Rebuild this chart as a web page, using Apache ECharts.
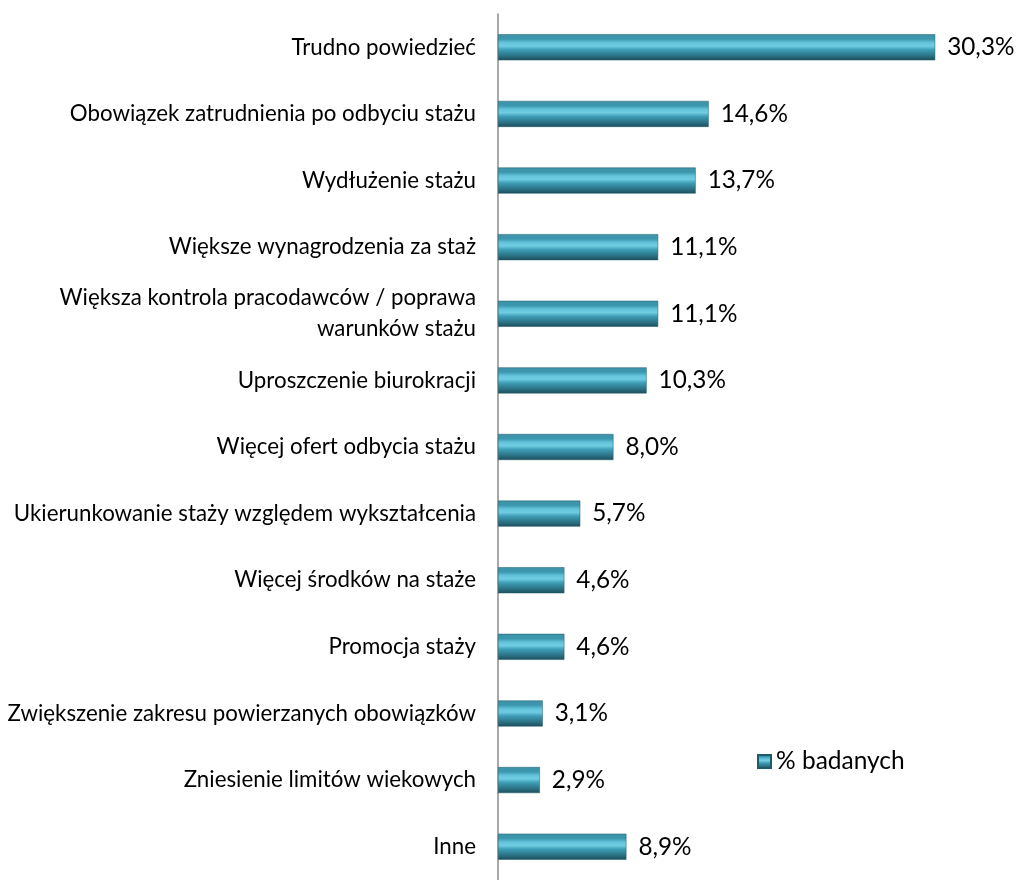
<!DOCTYPE html>
<html><head><meta charset="utf-8">
<script src="https://cdn.jsdelivr.net/npm/echarts@6/dist/echarts.min.js"></script>
<style>html,body{margin:0;padding:0;background:#fff}#c{width:1019px;height:880px}</style>
</head><body><div id="c"></div>
<script>
const categories = [
  "Trudno powiedzieć",
  "Obowiązek zatrudnienia po odbyciu stażu",
  "Wydłużenie stażu",
  "Większe wynagrodzenia za staż",
  "Większa kontrola pracodawców / poprawa\nwarunków stażu",
  "Uproszczenie biurokracji",
  "Więcej ofert odbycia stażu",
  "Ukierunkowanie staży względem wykształcenia",
  "Więcej środków na staże",
  "Promocja staży",
  "Zwiększenie zakresu powierzanych obowiązków",
  "Zniesienie limitów wiekowych",
  "Inne"
];
const values = [30.3, 14.6, 13.7, 11.1, 11.1, 10.3, 8.0, 5.7, 4.6, 4.6, 3.1, 2.9, 8.9];
const seriesName = "% badanych";

const font = "Lato, 'Open Sans', sans-serif";
const barGrad = new echarts.graphic.LinearGradient(0, 0, 0, 1, [
  {offset: 0, color: '#3f93a8'},
  {offset: 0.18, color: '#3b97ae'},
  {offset: 0.32, color: '#62c3da'},
  {offset: 0.45, color: '#70cde2'},
  {offset: 0.6, color: '#3d9db5'},
  {offset: 0.82, color: '#2c7386'},
  {offset: 1, color: '#1c4e5b'}
]);
const chart = echarts.init(document.getElementById('c'));
chart.setOption({
  animation: false,
  grid: {left: 498, top: 14, width: 505, height: 874, containLabel: false},
  legend: {
    data: [seriesName], left: 752, top: 744, itemWidth: 13, itemHeight: 13, itemGap: 4,
    icon: 'rect',
    textStyle: {fontFamily: font, fontSize: 24.5, color: '#000'}
  },
  xAxis: {type: 'value', min: 0, max: 35, show: false},
  yAxis: {
    type: 'category', data: categories, inverse: true,
    axisLine: {show: true, lineStyle: {color: '#8c8c8c', width: 1.5}},
    axisTick: {show: false},
    axisLabel: {fontFamily: font, fontSize: 22.3, color: '#000', margin: 22, lineHeight: 31, align: 'right'}
  },
  series: [{
    name: seriesName, type: 'bar', data: values, barWidth: 26,
    itemStyle: {color: barGrad, borderColor: '#1f5a69', borderWidth: 0.5},
    label: {
      show: true, position: 'right', distance: 12,
      fontFamily: font, fontSize: 24.3, color: '#000',
      formatter: p => p.value.toFixed(1).replace('.', ',') + '%'
    }
  }]
});
</script></body></html>
